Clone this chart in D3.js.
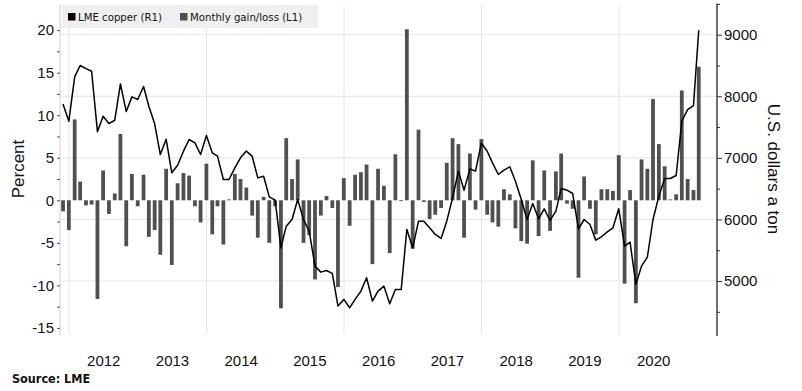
<!DOCTYPE html>
<html>
<head>
<meta charset="utf-8">
<script src="https://cdn.jsdelivr.net/npm/d3@7"></script>
<style>
  html, body { margin: 0; padding: 0; background: #ffffff; }
  svg { display: block; }
</style>
</head>
<body>
<svg id="chart" width="802" height="391"></svg>
<script>
// ---------- DATA ----------
const firstMonth = "2011-11"; // monthly data, month-end, Nov 2011 .. Feb 2021
const monthlyGain = [
  -1.3, -3.5, 9.5, 2.2, -0.6, -0.5, -11.6, 3.5, -1.6, 0.8, 7.8, -5.4,
  3.1, -0.7, 3.0, -4.3, -3.5, -6.4, 3.7, -7.6, 2.0, 3.2, 2.9, -0.7,
  -2.6, 4.3, -4.0, -0.7, -5.2, 0.1, 3.1, 2.5, 1.5, -1.8, -4.4, 0.4,
  -5.0, -0.7, -12.7, 7.3, 2.5, 4.8, -5.0, -4.1, -9.3, -1.8, 0.5, -0.9,
  -10.2, 2.6, -3.0, 3.0, 3.3, 4.2, -7.5, 3.7, 1.7, -6.2, 5.4, -0.1,
  20.1, -5.7, 8.3, -0.2, -2.2, -1.7, -0.9, 4.4, 7.3, 6.6, -4.4, 5.5,
  -1.1, 7.2, -1.7, -2.6, -3.1, 1.3, 0.7, -3.3, -4.8, -5.1, 4.7, -4.2,
  3.5, -3.6, 3.4, 5.5, -0.4, -1.0, -9.1, 2.8, -1.0, -4.0, 1.3, 1.3,
  1.1, 5.3, -9.8, 1.2, -12.1, 4.8, 3.7, 11.9, 6.6, 4.0, 0.1, 0.7,
  12.9, 2.5, 1.2, 15.7
];
const copperPrice = [
  7876, 7595, 8315, 8499, 8450, 8407, 7422, 7676, 7557, 7611, 8201, 7752,
  7990, 7947, 8158, 7839, 7552, 7054, 7303, 6757, 6881, 7108, 7298, 7243,
  7054, 7362, 7081, 7027, 6648, 6648, 6838, 7000, 7110, 7027, 6675, 6702,
  6367, 6313, 5539, 5891, 5999, 6324, 5999, 5810, 5242, 5144, 5170, 5123,
  4593, 4701, 4566, 4701, 4836, 5052, 4674, 4836, 4917, 4630, 4863, 4863,
  5837, 5539, 5972, 5972, 5864, 5756, 5691, 5972, 6351, 6784, 6475, 6821,
  6784, 7243, 7108, 6919, 6730, 6800, 6854, 6621, 6324, 5999, 6259, 6010,
  6172, 5983, 6134, 6502, 6475, 6421, 5848, 5999, 5918, 5664, 5718, 5799,
  5864, 6172, 5566, 5631, 4944, 5242, 5388, 5999, 6378, 6665, 6665, 6713,
  7595, 7784, 7849, 9072
];
const yearLabels = [2012, 2013, 2014, 2015, 2016, 2017, 2018, 2019, 2020];
const gridYears = [2012, 2014, 2016, 2018, 2020];
const leftTicks = [-15, -12.5, -10, -7.5, -5, -2.5, 0, 2.5, 5, 7.5, 10, 12.5, 15, 17.5, 20];
const rightTicks = [5000, 6000, 7000, 8000, 9000];
const rightMinorTicks = [4500, 5500, 6500, 7500, 8500, 9500];
const legendItems = ["LME copper (R1)", "Monthly gain/loss (L1)"];
const leftTitle = "Percent";
const rightTitle = "U.S. dollars a ton";
const sourceText = "Source: LME";

// ---------- SETUP ----------
const svg = d3.select("#chart");
const L = 60, R = 717, T = 4, B = 336;
const barColor = "#505050";
const gridColor = "#e4e4e4";
const axisFont = "'Liberation Sans', Arial, sans-serif";

const parseMonth = d3.timeParse("%Y-%m");
const start = parseMonth(firstMonth);
const dates = monthlyGain.map((_, i) => new Date(start.getFullYear(), start.getMonth() + i + 1, 0));

const x = d3.scaleTime()
  .domain([new Date(2011, 10, 14), new Date(2021, 5, 5)])
  .range([L, R]);
const yL = d3.scaleLinear().domain([-15.95, 22.95]).range([B, 5]);
const yR = d3.scaleLinear().domain([4107, 9500]).range([B, 3.9]);

// ---------- GRID ----------
const grid = svg.append("g");
grid.selectAll("line.h").data(rightTicks).enter().append("line")
  .attr("x1", L).attr("x2", R)
  .attr("y1", d => yR(d)).attr("y2", d => yR(d))
  .attr("stroke", gridColor).attr("stroke-width", 1);
grid.selectAll("line.v").data(gridYears).enter().append("line")
  .attr("x1", d => x(new Date(d, 0, 1))).attr("x2", d => x(new Date(d, 0, 1)))
  .attr("y1", 5).attr("y2", B - 2)
  .attr("stroke", gridColor).attr("stroke-width", 1);

// ---------- BARS ----------
const monthW = x(new Date(2012, 1, 1)) - x(new Date(2012, 0, 1));
const barW = monthW * 0.65;
svg.append("g").selectAll("rect").data(monthlyGain).enter().append("rect")
  .attr("x", (d, i) => x(dates[i]) - barW / 2)
  .attr("width", barW)
  .attr("y", d => d >= 0 ? yL(d) : yL(0))
  .attr("height", d => Math.max(0.8, Math.abs(yL(d) - yL(0))))
  .attr("fill", barColor);

// ---------- LINE ----------
const line = d3.line()
  .x((d, i) => x(dates[i]))
  .y(d => yR(d));
svg.append("path").datum(copperPrice)
  .attr("d", line)
  .attr("fill", "none")
  .attr("stroke", "#000")
  .attr("stroke-width", 1.5)
  .attr("stroke-linejoin", "round");

// ---------- LEFT AXIS ----------
svg.append("line").attr("x1", L).attr("x2", L).attr("y1", 5).attr("y2", B)
  .attr("stroke", "#cfcfcf").attr("stroke-width", 1);
const leftAxis = svg.append("g").attr("transform", `translate(${L},0)`)
  .call(d3.axisLeft(yL).tickValues(leftTicks).tickSize(3).tickPadding(3)
    .tickFormat(d => (d % 5 === 0 ? String(d) : "")));
leftAxis.select(".domain").remove();
leftAxis.selectAll(".tick line").attr("stroke", "#555");
leftAxis.selectAll("text").attr("font-family", axisFont).attr("font-size", 15).attr("fill", "#111");

// ---------- RIGHT AXIS ----------
const rightAxis = svg.append("g").attr("transform", `translate(${R},0)`)
  .call(d3.axisRight(yR).tickValues(rightTicks).tickSize(5).tickPadding(2)
    .tickFormat(d3.format("d")));
rightAxis.select(".domain").remove();
rightAxis.selectAll(".tick line").attr("stroke", "#333");
rightAxis.selectAll("text").attr("font-family", axisFont).attr("font-size", 15).attr("fill", "#111");
const rightMinor = svg.append("g").attr("transform", `translate(${R},0)`)
  .call(d3.axisRight(yR).tickValues(rightMinorTicks).tickSize(3).tickFormat(""));
rightMinor.select(".domain").remove();
rightMinor.selectAll(".tick line").attr("stroke", "#333");
svg.append("line").attr("x1", R).attr("x2", R).attr("y1", 3.5).attr("y2", B)
  .attr("stroke", "#222").attr("stroke-width", 1.3);

// ---------- X AXIS ----------
const xAxis = svg.append("g").attr("transform", `translate(0,${B})`)
  .call(d3.axisBottom(x).tickValues(yearLabels.map(y => new Date(y, 6, 1)))
    .tickSize(0).tickPadding(19).tickFormat(d3.timeFormat("%Y")));
xAxis.select(".domain").remove();
xAxis.selectAll("text").attr("font-family", axisFont).attr("font-size", 15).attr("fill", "#111");

// ---------- TITLES ----------
svg.append("text").attr("transform", "translate(24,169) rotate(-90)")
  .attr("text-anchor", "middle").attr("font-family", axisFont)
  .attr("font-size", 17).attr("fill", "#111").text(leftTitle);
svg.append("text").attr("transform", "translate(768,169) rotate(90)")
  .attr("text-anchor", "middle").attr("font-family", axisFont)
  .attr("font-size", 17).attr("fill", "#111").text(rightTitle);

// ---------- LEGEND ----------
const legendFont = "'DejaVu Sans Condensed', 'DejaVu Sans', sans-serif";
const lg = svg.append("g");
lg.append("rect").attr("x", 62).attr("y", 5).attr("width", 256).attr("height", 23).attr("fill", "#efefef");
const legendX = [68, 180];
const legendColors = ["#000000", barColor];
legendItems.forEach((t, i) => {
  lg.append("rect").attr("x", legendX[i]).attr("y", 13).attr("width", 7.5).attr("height", 7.5).attr("fill", legendColors[i]);
  lg.append("text").attr("x", legendX[i] + 10).attr("y", 21).attr("font-family", legendFont)
    .attr("font-size", 11.3).attr("fill", "#111").text(t);
});

// ---------- SOURCE ----------
svg.append("text").attr("x", 12).attr("y", 383)
  .attr("font-family", legendFont).attr("font-weight", "bold")
  .attr("font-size", 12.5).attr("fill", "#111").text(sourceText);
</script>
</body>
</html>
